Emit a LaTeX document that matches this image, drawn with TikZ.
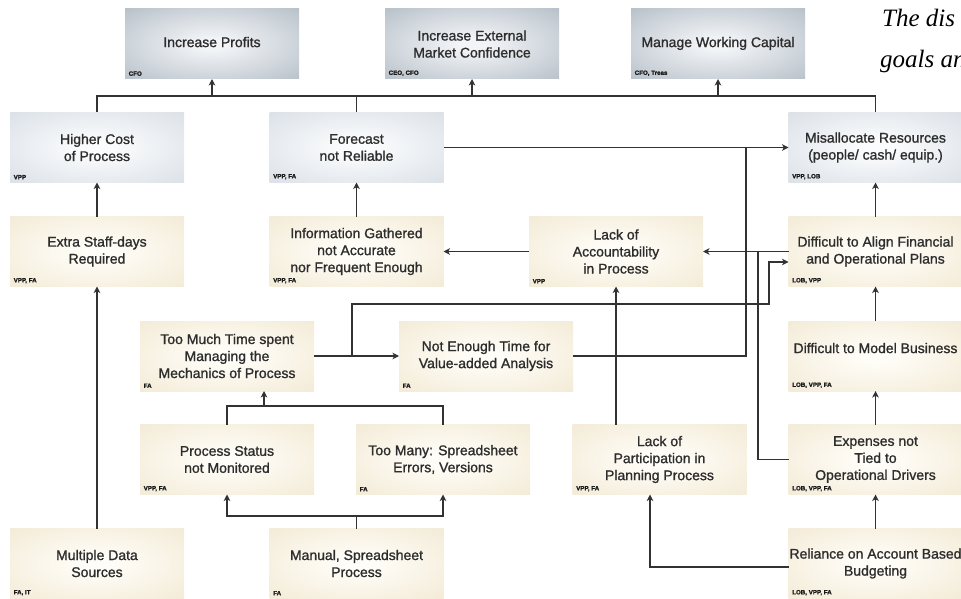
\documentclass[tikz,border=0pt]{standalone}
\usepackage{fontspec}
\setmainfont{Liberation Sans}[FakeBold=1.2]
\newfontfamily\boxfont{Liberation Sans}[FakeBold=1.2]
\newfontfamily\italserif{Liberation Serif}
\usetikzlibrary{arrows.meta,calc}
\definecolor{goalin}{RGB}{242,244,247}
\definecolor{goalout}{RGB}{158,170,181}
\definecolor{effin}{RGB}{251,252,253}
\definecolor{effout}{RGB}{205,213,222}
\definecolor{causein}{RGB}{255,253,248}
\definecolor{causeout}{RGB}{238,227,200}
\definecolor{txt}{RGB}{45,45,45}
\definecolor{wire}{RGB}{50,50,50}
\pgfdeclareradialshading{goalshade}{\pgfpointorigin}{color(0bp)=(goalin); color(4bp)=(goalin); color(50bp)=(goalout); color(100bp)=(goalout)}
\pgfdeclareradialshading{effshade}{\pgfpointorigin}{color(0bp)=(effin); color(4bp)=(effin); color(50bp)=(effout); color(100bp)=(effout)}
\pgfdeclareradialshading{causeshade}{\pgfpointorigin}{color(0bp)=(causein); color(4bp)=(causein); color(50bp)=(causeout); color(100bp)=(causeout)}
\tikzset{
  box/.style={minimum width=174, minimum height=70, inner sep=0pt, outer sep=0pt,
    align=center, text=txt, font=\boxfont\fontsize{14}{17}\selectfont},
  goal/.style={box, shading=goalshade},
  effect/.style={box, shading=effshade},
  cause/.style={box, shading=causeshade},
  tagtext/.style={anchor=south west, inner xsep=3.5pt, inner ysep=3pt, text=black!90,
    font=\boxfont\fontsize{6.2}{7}\selectfont\bfseries},
  tag/.style={label={[tagtext]south west:{#1}}},
  wireline/.style={draw=wire, line width=1.2pt},
  arr/.style={wireline, -{Stealth[length=6.5pt,width=6.5pt,inset=1.8pt]}},
}
\begin{document}
\begin{tikzpicture}[x=1pt,y=-1pt]
\useasboundingbox (0,0) rectangle (961,599);
% top row
\node[goal, tag={CFO}] (IP) at (212,44) {\raisebox{4pt}{Increase Profits}};
\node[goal, tag={CEO, CFO}] (IE) at (472,44) {Increase External\\Market Confidence};
\node[goal, tag={CFO, Treas}] (MW) at (718,44) {\raisebox{4pt}{Manage Working Capital}};
% second row
\node[effect, tag={VPP}] (HC) at (97,147.5) {Higher Cost\\of Process};
\node[effect, tag={VPP, FA}] (FR) at (356.5,147.5) {Forecast\\not Reliable};
\node[effect, tag={VPP, LOB}] (MR) at (875.5,147.5) {Misallocate Resources\\(people/ cash/ equip.)};
% third row
\node[cause, tag={VPP, FA}] (ES) at (97,251.5) {Extra Staff-days\\Required};
\node[cause, tag={VPP, FA}] (IG) at (356.5,251.5) {Information Gathered\\not Accurate\\nor Frequent Enough};
\node[cause, tag={VPP}] (LA) at (616,251.5) {Lack of\\Accountability\\in Process};
\node[cause, tag={LOB, VPP}] (DA) at (875.5,251.5) {Difficult to Align Financial\\and Operational Plans};
% fourth row
\node[cause, tag={FA}] (TM) at (227,356) {Too Much Time spent\\Managing the\\Mechanics of Process};
\node[cause, tag={FA}] (NE) at (486,356) {Not Enough Time for\\Value-added Analysis};
\node[cause, tag={LOB, VPP, FA}] (DM) at (875.5,356) {\raisebox{16pt}{Difficult to Model Business}};
% fifth row
\node[cause, tag={VPP, FA}] (PS) at (227,459.5) {Process Status\\not Monitored};
\node[cause, tag={FA}] (TY) at (443,459.5) {Too Many: Spreadsheet\\Errors, Versions};
\node[cause, tag={VPP, FA}] (LP) at (659.5,459.5) {Lack of\\Participation in\\Planning Process};
\node[cause, tag={LOB, VPP, FA}] (EX) at (875.5,459.5) {Expenses not\\Tied to\\Operational Drivers};
% sixth row
\node[cause, tag={FA, IT}] (MD) at (97,563.5) {Multiple Data\\Sources};
\node[cause, tag={FA}] (MS) at (356.5,563.5) {Manual, Spreadsheet\\Process};
\node[cause, tag={LOB, VPP, FA}] (RA) at (875.5,563.5) {Reliance on Account Based\\Budgeting};
% heading text at right
\node[anchor=base west, inner sep=0pt, font=\italserif\itshape\fontsize{25}{30}\selectfont] (h1) at (882,27) {The dis};
\node[anchor=base west, inner sep=0pt, font=\italserif\itshape\fontsize{25}{30}\selectfont] (h2) at (880,68) {goals an};
% junction coordinates
\coordinate (bus) at (0,96);
\coordinate (j1) at (746,148);
\coordinate (j2) at (758,251.5);
\coordinate (j3) at (352,356);
\coordinate (j4) at (769,304);
\coordinate (tmbus) at (264,406);
\coordinate (msbus) at (356.5,516);
\coordinate (lpin) at (650,494.5);
% connectors
\draw[wireline] (HC.north) |- (MR.north |- bus) -- (MR.north);
\draw[wireline] (FR.north) -- (FR.north |- bus);
\draw[arr] (IP.south |- bus) -- (IP.south);
\draw[arr] (IE.south |- bus) -- (IE.south);
\draw[arr] (MW.south |- bus) -- (MW.south);
\draw[arr] (ES.north) -- (HC.south);
\draw[arr] (IG.north) -- (FR.south);
\draw[arr] (FR.east) -- (MR.west);
\draw[wireline] (NE.east) -| (j1);
\draw[arr] (DA.north) -- (MR.south);
\draw[arr] (LA.west) -- (IG.east);
\draw[arr] (DA.west) -- (LA.east);
\draw[wireline] (EX.west) -| (j2);
\draw[arr] (TM.east) -- (NE.west);
\draw[arr] (j3) |- (j4) |- ($(DA.west)+(0,10.5)$);
\draw[arr] (DM.north) -- (DA.south);
\draw[wireline] (PS.north) |- (tmbus) -| (TY.north);
\draw[arr] (tmbus) -- (tmbus |- TM.south);
\draw[arr] (LP.north -| LA.south) -- (LA.south);
\draw[arr] (EX.north) -- (DM.south);
\draw[arr] (MD.north) -- (ES.south);
\draw[wireline] (MS.north) -- (msbus);
\draw[arr] (msbus) -| (PS.south);
\draw[arr] (msbus) -| (TY.south);
\draw[arr] ($(RA.west)+(0,3.5)$) -| (lpin);
\draw[arr] (RA.north) -- (EX.south);
\end{tikzpicture}
\end{document}
